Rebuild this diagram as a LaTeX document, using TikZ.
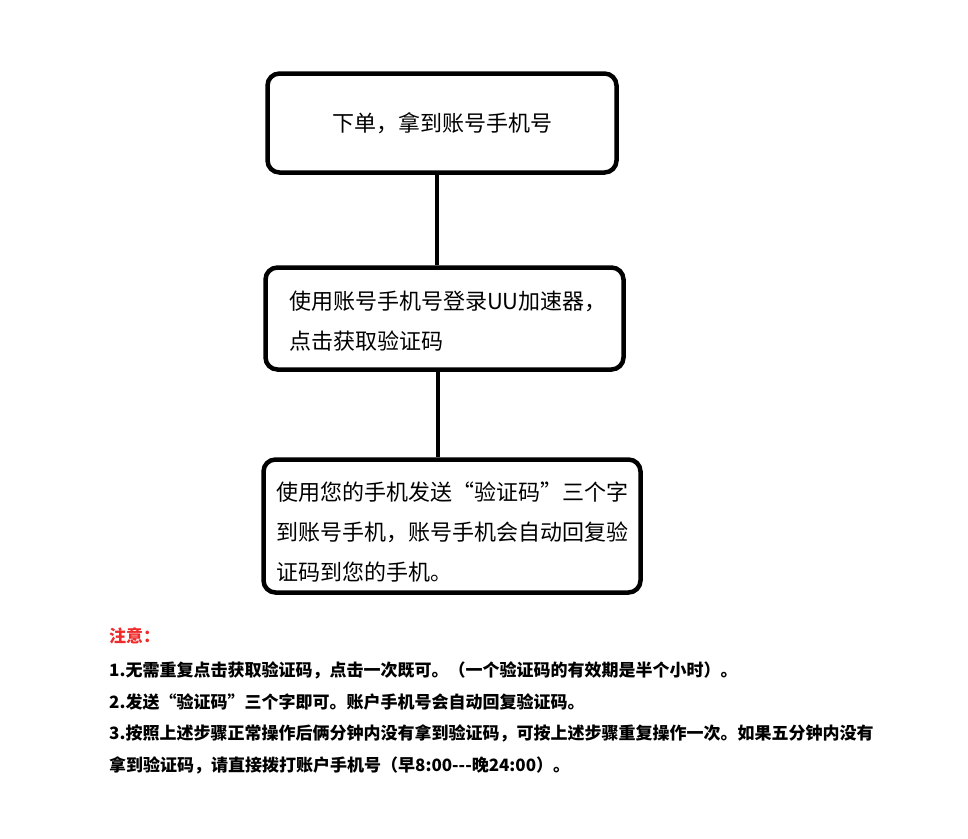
\documentclass[tikz,border=0pt]{standalone}
\usepackage{fontspec}
\setmainfont{Noto Sans CJK SC}
\usepackage{xcolor}
\usepackage{tikz}
\usetikzlibrary{positioning,calc}
\definecolor{FlowInk}{HTML}{000000}
\definecolor{NoteRed}{HTML}{EE2A2A}
\tikzset{
  stepbox/.style={draw=FlowInk,line width=4.5pt,rounded corners=12pt,fill=white,
    font=\fontsize{22}{40}\selectfont},
  link/.style={draw=FlowInk,line width=4.5pt},
  noteline/.style={anchor=base west,inner sep=0pt,font=\fontsize{17}{20}\selectfont\bfseries}
}

\begin{document}
\begin{tikzpicture}[x=1pt,y=-1pt]
  \useasboundingbox (0,0) rectangle (968,838);
  % steps
  \node[stepbox,minimum width=349pt,minimum height=99pt] (order) at (442,123)
    {下单，拿到账号手机号};
  \node[stepbox,minimum width=358pt,minimum height=102pt,text width=311pt,
    inner xsep=23.5pt,align=left] (login) at (444.5,318.5)
    {\rule{0pt}{23pt}使用账号手机号登录UU加速器，\\点击获取验证码};
  \node[stepbox,minimum width=377pt,minimum height=133pt,text width=352pt,
    inner xsep=12.5pt,align=left] (sms) at (452,526)
    {\rule{0pt}{31pt}使用您的手机发送“验证码”三个字\\到账号手机，账号手机会自动回复验\\证码到您的手机。};
  \draw[link] ([xshift=-5pt]order.south) -- ([xshift=-5pt]order.south |- login.north);
  \draw[link] ([xshift=-6.5pt]login.south) -- ([xshift=-6.5pt]login.south |- sms.north);
  % notes
  \node[noteline,text=NoteRed] (notehead) at (109,642.5) {注意：};
  \node[noteline] (note1) at (109,676.5) {1.无需重复点击获取验证码，点击一次既可。（一个验证码的有效期是半个小时）。};
  \node[noteline] (note2) at (109,708.5) {2.发送“验证码”三个字即可。账户手机号会自动回复验证码。};
  \node[noteline] (note3) at (109,739.5) {3.按照上述步骤正常操作后俩分钟内没有拿到验证码，可按上述步骤重复操作一次。如果五分钟内没有};
  \node[noteline] (note4) at (109,771.5) {拿到验证码，请直接拨打账户手机号（早8:00-{}-{}-晚24:00）。};
\end{tikzpicture}
\end{document}
